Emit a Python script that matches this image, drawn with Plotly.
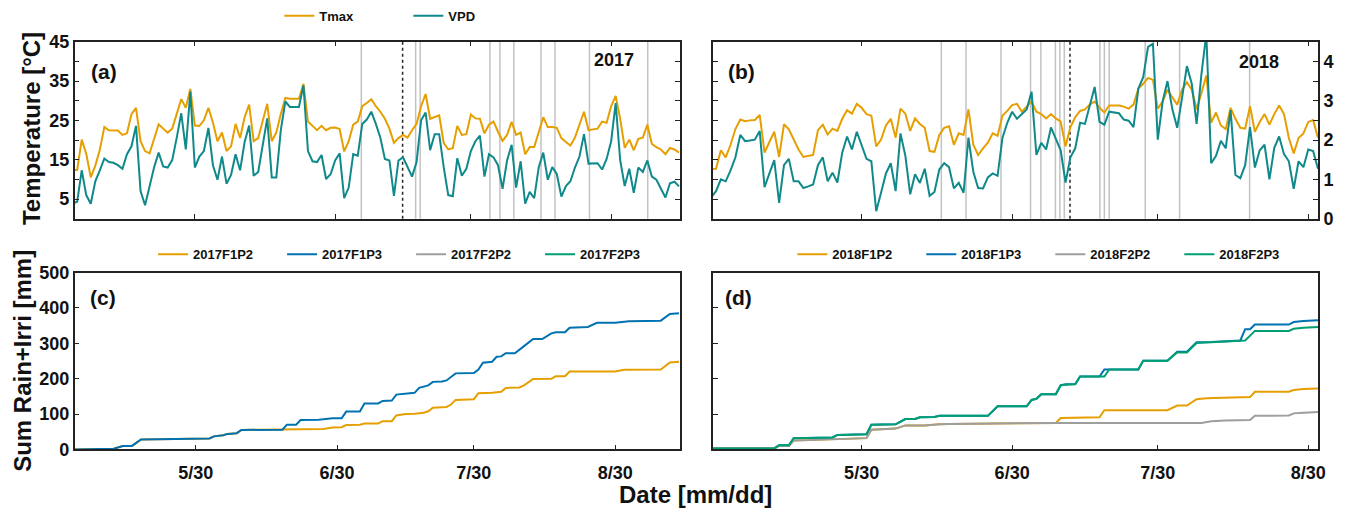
import pandas as pd
import plotly.graph_objects as go

FONT = "Liberation Sans, Arial, sans-serif"

# ---------------- data ----------------
start_2017 = "2017-05-03"
tmax_2017 = [12.4, 12.4, 20.1, 16.5, 10.5, 13.5, 17.5, 23.3, 22.5, 22.5, 22.4, 21.3, 21.7, 26.6, 28.2, 19.7, 17.2, 16.6,
             20.5, 24.0, 22.9, 21.9, 22.9, 27.0, 30.4, 28.2, 33.0, 23.7, 23.6, 25.0, 28.2, 24.4, 19.7, 21.9, 17.2, 18.4,
             24.1, 20.5, 25.8, 29.0, 19.7, 20.5, 24.5, 29.2, 19.7, 21.9, 26.6, 30.7, 30.5, 30.5, 30.5, 34.3, 24.7, 23.6,
             22.5, 23.6, 22.5, 23.1, 23.2, 22.8, 17.1, 19.7, 23.9, 24.7, 28.6, 29.4, 30.4, 28.6, 27.2, 25.4, 22.9, 19.3,
             20.5, 21.3, 20.6, 22.5, 24.1, 28.6, 31.7, 25.4, 25.8, 26.3, 19.3,
             17.6, 17.9, 23.6, 21.3, 21.5, 26.5, 25.5, 25.4, 21.7, 23.9, 24.7, 22.1, 19.8, 21.3, 24.6, 21.3, 21.9, 16.4,
             18.2, 18.2, 22.1, 25.8, 23.3, 23.3, 23.1, 20.5, 19.5, 18.6, 20.6, 23.9, 27.2, 22.5, 22.7, 22.9, 24.7, 24.4,
             28.6, 31.2, 25.4, 18.0, 20.1, 17.4, 20.3, 20.6, 23.9, 19.0, 18.2, 17.6, 16.4, 18.0, 17.6, 16.8]
vpd_2017 = [0.39, 0.43, 1.23, 0.60, 0.38, 0.95, 1.23, 1.53, 1.44, 1.42, 1.36, 1.27, 1.64, 1.84, 2.36, 0.70, 0.34, 0.83,
            1.31, 1.68, 1.33, 1.30, 1.49, 2.06, 2.68, 1.76, 3.23, 1.30, 1.58, 1.72, 2.31, 1.36, 0.99, 1.58, 0.89, 1.11,
            1.64, 1.23, 1.95, 2.37, 1.09, 1.19, 1.90, 2.55, 1.05, 1.05, 2.25, 2.98, 2.84, 2.84, 2.84, 3.39, 1.72, 1.46,
            1.44, 1.62, 1.01, 1.13, 1.48, 1.66, 0.52, 0.79, 1.64, 1.60, 2.41, 2.52, 2.72, 2.41, 2.06, 1.52, 1.48, 0.58,
            1.48, 1.56, 1.31, 1.07, 1.44, 2.50, 2.70, 1.74, 2.15, 2.15, 1.31,
            0.60, 0.57, 1.54, 1.09, 1.27, 1.72, 1.97, 2.11, 1.07, 1.64, 1.56, 1.36, 0.76, 1.48, 1.88, 0.79, 1.46, 0.38,
            0.68, 0.52, 1.31, 1.68, 0.99, 1.31, 1.13, 0.56, 0.83, 0.95, 1.30, 1.58, 2.15, 1.40, 1.40, 1.41, 1.25, 1.52,
            1.97, 2.94, 1.48, 0.83, 1.27, 0.66, 1.30, 1.19, 1.48, 1.07, 0.99, 0.76, 0.54, 0.90, 0.94, 0.82]

start_2018 = "2018-04-29"
tmax_2018 = [12.6, 12.7, 17.4, 15.6, 18.8, 22.8, 25.2, 24.8, 25.0, 25.1, 26.4, 16.8, 19.5, 22.1, 15.7, 24.0, 22.7, 20.1,
             17.6, 15.7, 15.9, 16.2, 22.5, 23.9, 21.4, 22.9, 22.3, 25.4, 27.6, 26.7, 29.2, 28.2, 26.6, 26.2, 18.4, 20.1,
             23.7, 25.4, 20.6, 28.0, 26.7, 22.3, 25.5, 24.1, 23.1, 17.2, 17.0, 21.3, 23.1, 23.5, 18.8, 21.7, 21.3, 27.8,
             18.8, 16.2, 17.9, 19.3, 21.7, 21.1,
             26.2, 27.4, 28.9, 29.2, 27.2, 28.6, 29.8, 27.2, 26.6, 25.5, 26.6, 25.5, 24.7, 18.4, 23.3, 25.8, 27.4, 27.8,
             29.0, 29.8, 28.2, 27.0, 28.8, 28.8, 28.8, 28.5, 28.0, 29.0, 33.1, 34.3, 35.8, 35.3, 28.0, 29.8, 32.8, 30.9,
             29.0, 32.8, 34.7, 32.8, 27.8, 32.0, 36.4, 24.4, 27.0, 23.7, 22.8, 28.2, 25.4, 23.1, 22.9, 28.6, 22.1, 24.6,
             26.6, 23.9, 26.6, 28.8, 26.6, 20.5, 16.6, 20.5, 21.7, 24.6, 25.1, 20.6]
vpd_2018 = [0.54, 0.70, 1.00, 0.95, 1.23, 1.56, 2.13, 1.97, 1.99, 2.01, 2.23, 0.80, 1.15, 1.49, 0.40, 1.36, 1.52, 0.95,
            0.95, 0.78, 0.82, 0.87, 1.36, 1.56, 0.95, 1.17, 0.92, 1.68, 2.09, 1.76, 2.21, 1.88, 1.52, 1.46, 0.19, 0.66,
            1.15, 1.41, 0.70, 2.17, 1.60, 0.62, 1.13, 0.91, 1.27, 0.58, 0.68, 1.25, 1.41, 1.31, 0.77, 0.91, 0.66, 2.06,
            1.19, 0.78, 0.77, 1.05, 1.15, 1.09,
            2.05, 2.44, 2.72, 2.54, 2.66, 2.78, 3.23, 1.62, 1.93, 1.76, 2.32, 2.05, 1.74, 0.92, 1.56, 1.79, 2.44, 2.41,
            2.88, 3.35, 2.46, 2.39, 2.72, 2.70, 2.68, 2.52, 2.49, 2.33, 3.31, 3.60, 4.37, 4.45, 2.01, 2.98, 3.50, 2.78,
            2.31, 3.07, 3.88, 3.43, 2.41, 3.68, 4.70, 1.41, 1.60, 1.98, 1.79, 2.76, 1.11, 1.03, 1.36, 2.33, 1.30, 1.74,
            1.88, 1.00, 1.80, 2.09, 1.64, 1.46, 0.76, 1.46, 1.31, 1.76, 1.72, 1.27]

# irrigation / rain event dates (grey lines) and key date (dotted line)
events_2017 = ["2017-07-05 19:00", "2017-07-17 19:00", "2017-07-18 19:00", "2017-08-03 05:00", "2017-08-05 10:00",
               "2017-08-08 12:00", "2017-08-14 12:00", "2017-08-17 14:00", "2017-08-25 05:00", "2017-09-07 02:00"]
key_2017 = "2017-07-14 22:00"
events_2018 = ["2018-06-15 10:00", "2018-06-20 12:00", "2018-06-27 17:00", "2018-07-03 19:00", "2018-07-05 22:00",
               "2018-07-08 22:00", "2018-07-09 20:00", "2018-07-10 18:00", "2018-07-18 02:00", "2018-07-19 00:00",
               "2018-07-20 00:00", "2018-07-27 10:00", "2018-08-03 12:00", "2018-08-17 22:00"]
key_2018 = "2018-07-11 22:00"

# cumulative rain + irrigation, vertices (day offset from 30 May, mm)
base_2017 = "2017-05-30"
f1p3_2017_day = [-27, -19, -18, -16, -14, -12, 0, 1, 3, 4, 6, 7, 8, 9, 10, 19, 20, 22, 23, 27, 30, 32, 33, 36, 37, 40,
                 41, 43, 44, 46, 48, 49, 50, 51, 52, 54, 55, 56, 57, 61, 62, 63, 65, 66, 67, 68, 70, 72, 74, 76, 78,
                 79, 81, 82, 84, 86, 88, 92, 95, 102, 104, 106]
f1p3_2017_mm = [0, 0, 2, 10, 10, 28, 29, 31, 31, 37, 40, 44, 45, 46, 55, 56, 70, 70, 83, 84, 88, 88, 107, 107, 130, 130,
                137, 138, 155, 158, 160, 174, 177, 181, 191, 192, 195, 204, 215, 216, 226, 245, 248, 262, 263, 272,
                272, 292, 312, 312, 328, 331, 331, 344, 346, 346, 358, 358, 362, 364, 383, 385]
f1p2_2017_day = [-27, -19, -18, -16, -14, -12, 0, 1, 3, 4, 6, 7, 8, 9, 10, 19, 26, 28, 30, 32, 33, 36, 37, 40, 41, 43,
                 44, 45, 46, 48, 50, 51, 52, 55, 56, 57, 61, 62, 65, 67, 68, 71, 72, 74, 78, 79, 81, 82, 92, 94, 102,
                 104, 106]
f1p2_2017_mm = [0, 0, 2, 10, 10, 28, 29, 31, 31, 37, 40, 44, 45, 46, 55, 56, 57, 58, 62, 63, 69, 70, 73, 73, 80, 80,
                96, 98, 100, 101, 104, 108, 118, 120, 127, 140, 142, 159, 160, 163, 174, 175, 181, 199, 200, 207,
                207, 220, 220, 225, 226, 246, 248]
f2p2_2017_day = []
f2p2_2017_mm = []
f2p3_2017_day = []
f2p3_2017_mm = []

base_2018 = "2018-05-30"
f2p3_2018_day = [-31, -18, -17, -15, -14, -6, -5, 1, 2, 7, 9, 11, 12, 15, 16, 26, 28, 34, 35, 36, 37, 40, 41, 42, 44,
                 45, 50, 51, 57, 58, 63, 65, 67, 69, 72, 78, 79, 81, 88, 89, 91, 94]
f2p3_2018_mm = [3, 3, 12, 12, 32, 34, 41, 43, 70, 71, 86, 86, 91, 92, 95, 95, 122, 122, 140, 143, 156, 156, 181, 183,
                184, 206, 206, 226, 226, 251, 251, 274, 274, 301, 303, 308, 308, 335, 335, 341, 344, 346]
f1p3_2018_day = [-31, -18, -17, -15, -14, -6, -5, 1, 2, 7, 9, 11, 12, 15, 16, 26, 28, 34, 35, 36, 37, 40, 41, 42, 44,
                 45, 49, 50, 57, 58, 63, 65, 67, 69, 72, 78, 79, 80, 81, 88, 89, 91, 94]
f1p3_2018_mm = [3, 3, 12, 12, 32, 34, 41, 43, 70, 71, 86, 86, 91, 92, 95, 95, 122, 122, 140, 143, 156, 156, 182, 184,
                185, 206, 206, 226, 226, 251, 251, 276, 276, 303, 304, 308, 340, 340, 353, 353, 360, 363, 365]
f2p2_2018_day = [-31, -18, -17, -15, -14, -6, -5, 1, 2, 7, 9, 13, 16, 18, 40, 70, 72, 75, 80, 81, 88, 89, 91, 94]
f2p2_2018_mm = [3, 3, 10, 10, 25, 29, 31, 32, 56, 59, 68, 68, 71, 72, 75, 75, 80, 82, 83, 95, 96, 102, 104, 106]
f1p2_2018_day = [-31, -18, -17, -15, -14, -6, -5, 1, 2, 7, 9, 13, 16, 18, 40, 41, 49, 50, 63, 65, 67, 69, 71, 75, 80,
                 81, 88, 89, 91, 94]
f1p2_2018_mm = [3, 3, 10, 10, 25, 29, 31, 32, 56, 59, 68, 68, 71, 72, 75, 89, 91, 111, 111, 124, 124, 142, 145, 147,
                148, 163, 163, 168, 171, 172]

tick_text = ["5/30", "6/30", "7/30", "8/30"]
ticks_2017 = ["2017-05-30", "2017-06-30", "2017-07-30", "2017-08-30"]
ticks_2018 = ["2018-05-30", "2018-06-30", "2018-07-30", "2018-08-30"]

# ---------------- colours ----------------
C_T = "#E69F00"
C_V = "#10898B"
C_P2 = "#E69F00"
C_P3 = "#0072B2"
C_F2P2 = "#9E9E9E"
C_F2P3 = "#009E73"

W, H = 1356, 521


def px_x(a, b):
    return [a / W, b / W]


def px_y(top, bottom):
    return [1 - bottom / H, 1 - top / H]


def to_dates(base, offsets):
    return [pd.Timestamp(base) + pd.Timedelta(days=d) for d in offsets]


d2017 = pd.date_range(start_2017, periods=len(tmax_2017), freq="D")
d2018 = pd.date_range(start_2018, periods=len(tmax_2018), freq="D")

fig = go.Figure()
# panel a
fig.add_trace(go.Scatter(x=d2017, y=tmax_2017, mode="lines", name="Tmax", line=dict(color=C_T, width=2),
                         xaxis="x", yaxis="y", legend="legend"))
fig.add_trace(go.Scatter(x=d2017, y=vpd_2017, mode="lines", name="VPD", line=dict(color=C_V, width=2),
                         xaxis="x", yaxis="y2", legend="legend"))
# panel b
fig.add_trace(go.Scatter(x=d2018, y=tmax_2018, mode="lines", name="Tmax", line=dict(color=C_T, width=2),
                         xaxis="x2", yaxis="y3", showlegend=False))
fig.add_trace(go.Scatter(x=d2018, y=vpd_2018, mode="lines", name="VPD", line=dict(color=C_V, width=2),
                         xaxis="x2", yaxis="y4", showlegend=False))

# panel c
for nm, dd, vv, col in [("2017F1P2", f1p2_2017_day, f1p2_2017_mm, C_P2),
                        ("2017F1P3", f1p3_2017_day, f1p3_2017_mm, C_P3),
                        ("2017F2P2", f2p2_2017_day, f2p2_2017_mm, C_F2P2),
                        ("2017F2P3", f2p3_2017_day, f2p3_2017_mm, C_F2P3)]:
    xs = to_dates(base_2017, dd) if dd else [None]
    ys = vv if vv else [None]
    fig.add_trace(go.Scatter(x=xs, y=ys, mode="lines", name=nm, line=dict(color=col, width=2),
                             xaxis="x3", yaxis="y5", legend="legend2"))
# panel d
order_d = [("2018F1P2", f1p2_2018_day, f1p2_2018_mm, C_P2),
           ("2018F1P3", f1p3_2018_day, f1p3_2018_mm, C_P3),
           ("2018F2P2", f2p2_2018_day, f2p2_2018_mm, C_F2P2),
           ("2018F2P3", f2p3_2018_day, f2p3_2018_mm, C_F2P3)]
for nm, dd, vv, col in order_d:
    fig.add_trace(go.Scatter(x=to_dates(base_2018, dd), y=vv, mode="lines", name=nm,
                             line=dict(color=col, width=2), xaxis="x4", yaxis="y6", legend="legend3"))

# ---------------- axes ----------------
tickfont = dict(family=FONT, size=18, color="#111", weight="bold")
base_ax = dict(showline=True, linecolor="#222", linewidth=1.5, ticks="inside", ticklen=5, tickwidth=1.2,
               tickcolor="#222", showgrid=False, zeroline=False, tickfont=tickfont)

top_dom = px_y(33, 217)
bot_dom = px_y(273, 457)
left_dom = px_x(75, 684)
right_dom = px_x(717, 1326)

range_a = ["2017-05-03 10:00", "2017-09-14 05:00"]
range_c = ["2017-05-03 10:00", "2017-09-13 05:00"]
range_bd = ["2018-04-29 08:00", "2018-09-01 01:00"]

fig.update_layout(
    xaxis=dict(base_ax, type="date", domain=left_dom, range=range_a, tickvals=ticks_2017, ticktext=tick_text,
               showticklabels=False, mirror="ticks", anchor="y"),
    yaxis=dict(base_ax, domain=top_dom, range=[0, 45], tickvals=[5, 15, 25, 35, 45], mirror="ticks",
               minor=dict(dtick=5, tick0=0, ticks="inside", ticklen=5, tickcolor="#222", tickwidth=1.2),
               anchor="x"),
    yaxis2=dict(overlaying="y", range=[0, 4.5], showticklabels=False, ticks="", showgrid=False,
                zeroline=False, side="right", anchor="x"),
    xaxis2=dict(base_ax, type="date", domain=right_dom, range=range_bd, tickvals=ticks_2018, ticktext=tick_text,
                showticklabels=False, mirror="ticks", anchor="y3"),
    yaxis3=dict(base_ax, domain=top_dom, range=[0, 45], tickvals=[5, 15, 25, 35, 45], showticklabels=False,
                mirror=True, minor=dict(dtick=5, tick0=0, ticks="inside", ticklen=5, tickcolor="#222",
                                        tickwidth=1.2), anchor="x2"),
    yaxis4=dict(base_ax, overlaying="y3", side="right", range=[0, 4.5], tickvals=[0, 1, 2, 3, 4],
                minor=dict(dtick=0.5, tick0=0, ticks="inside", ticklen=5, tickcolor="#222", tickwidth=1.2),
                anchor="x2"),
    xaxis3=dict(base_ax, type="date", domain=left_dom, range=range_c, tickvals=ticks_2017, ticktext=tick_text,
                mirror=True, anchor="y5", ticklabelstandoff=6),
    yaxis5=dict(base_ax, domain=bot_dom, range=[0, 500], dtick=100, mirror=True, anchor="x3"),
    xaxis4=dict(base_ax, type="date", domain=right_dom, range=range_bd, tickvals=ticks_2018, ticktext=tick_text,
                mirror=True, anchor="y6", ticklabelstandoff=6),
    yaxis6=dict(base_ax, domain=bot_dom, range=[0, 500], dtick=100, showticklabels=False, mirror=True,
                anchor="x4"),
)

# ---------------- event lines ----------------
shapes = []
for ev in events_2017:
    shapes.append(dict(type="line", xref="x", yref="y domain", x0=ev, x1=ev, y0=0, y1=1, layer="below",
                       line=dict(color="#C2C2C2", width=1.5)))
shapes.append(dict(type="line", xref="x", yref="y domain", x0=key_2017, x1=key_2017, y0=0, y1=1, layer="below",
                   line=dict(color="#222", width=1.5, dash="dot")))
for ev in events_2018:
    shapes.append(dict(type="line", xref="x2", yref="y3 domain", x0=ev, x1=ev, y0=0, y1=1, layer="below",
                       line=dict(color="#C2C2C2", width=1.5)))
shapes.append(dict(type="line", xref="x2", yref="y3 domain", x0=key_2018, x1=key_2018, y0=0, y1=1, layer="below",
                   line=dict(color="#222", width=1.5, dash="dot")))


# ---------------- annotations ----------------
def ann(text, x, y, size, angle=0):
    return dict(text=text, x=x / W, y=1 - y / H, xref="paper", yref="paper", showarrow=False,
                xanchor="center", yanchor="middle", textangle=angle,
                font=dict(family=FONT, size=size, color="#111", weight="bold"))


annotations = [
    ann("(a)", 105, 64, 21), ann("(b)", 746, 64, 21), ann("(c)", 104, 299, 21), ann("(d)", 743, 299, 21),
    ann("2017", 618, 52, 18), ann("2018", 1266, 54, 18),
    ann("Temperature [°C]", 31, 123, 24, -90),
    ann("Sum Rain+Irri [mm]", 23, 365, 24, -90),
    ann("Date [mm/dd]", 700, 504, 24),
]

legend_common = dict(orientation="h", bgcolor="rgba(0,0,0,0)", entrywidth=84, xanchor="left", yanchor="middle",
                     font=dict(family=FONT, size=13, color="#111", weight="bold"), itemwidth=30)

fig.update_layout(
    width=W, height=H, margin=dict(l=0, r=0, t=0, b=0),
    paper_bgcolor="white", plot_bgcolor="white",
    shapes=shapes, annotations=annotations,
    legend=dict(legend_common, x=281 / W, y=1 - 6 / H),
    legend2=dict(legend_common, x=154 / W, y=1 - 254 / H),
    legend3=dict(legend_common, x=797 / W, y=1 - 254 / H),
)

fig.write_html("out.html")
